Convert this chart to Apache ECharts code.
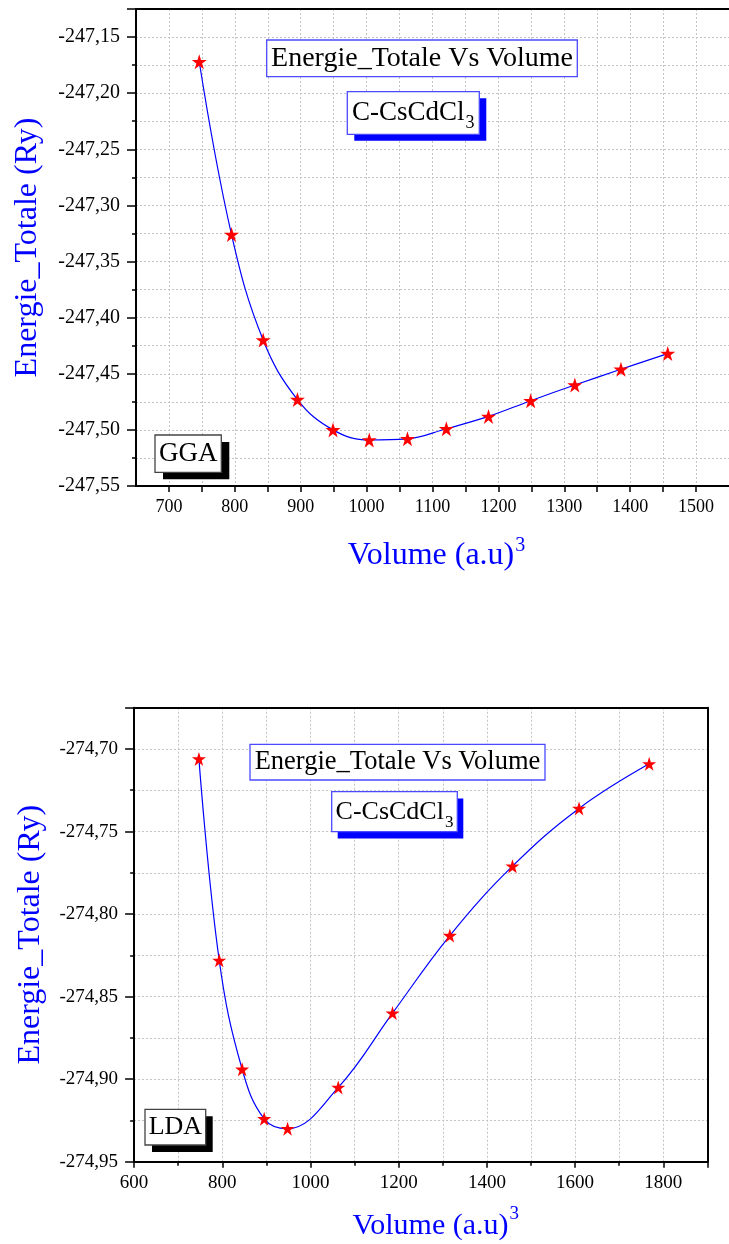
<!DOCTYPE html>
<html>
<head>
<meta charset="utf-8">
<script src="https://cdn.jsdelivr.net/npm/echarts@6/dist/echarts.min.js"></script>
<style>
  html, body { margin: 0; padding: 0; background: #fff; }
  #chart { width: 729px; height: 1244px; }
</style>
</head>
<body>
<div id="chart"></div>
<script>
// ---- Data ----
const ggaVolume = [746, 795, 843, 895, 949, 1004, 1062, 1121, 1185, 1249, 1316, 1386, 1457];
const ggaEnergy = [-247.172, -247.326, -247.420, -247.473, -247.500, -247.509, -247.508, -247.499, -247.488, -247.474, -247.460, -247.446, -247.432];
const ldaVolume = [747, 793, 845, 895, 948, 1063, 1186, 1316, 1458, 1609, 1768];
const ldaEnergy = [-274.706, -274.828, -274.894, -274.924, -274.930, -274.905, -274.860, -274.813, -274.771, -274.736, -274.709];

const titleText = 'Energie_Totale Vs Volume';
const compoundMain = 'C-CsCdCl';
const compoundSub = '3';
const ggaLabel = 'GGA';
const ldaLabel = 'LDA';
const yName = 'Energie_Totale (Ry)';
const xNameMain = 'Volume (a.u)';
const xNameSup = '3';

// ---- Styling helpers ----
const FONT = 'Liberation Serif';
const BLUE = '#0000ff';
const STAR = 'path://M50,0L61.2,34.5L97.6,34.5L68.2,55.9L79.4,90.5L50,69.1L20.6,90.5L31.8,55.9L2.4,34.5L38.8,34.5Z';
const gridLine = { show: true, lineStyle: { color: '#c4c4c4', type: [2, 2], width: 1 } };

function pair(v, u) { return v.map((x, i) => [x, u[i]]); }
function commaFmt(v) { return v.toFixed(2).replace('.', ','); }
function intFmt(v) { return String(Math.round(v)); }

function xNameCfg(size, supSize, padLeft) {
  return {
    name: '{v|' + xNameMain + '}{s|' + xNameSup + '}',
    nameLocation: 'middle',
    nameTextStyle: {
      padding: [0, 0, 0, padLeft],
      rich: {
        v: { fontFamily: FONT, fontSize: size, color: BLUE, lineHeight: 36, verticalAlign: 'bottom' },
        s: { fontFamily: FONT, fontSize: supSize, color: BLUE, lineHeight: 36, verticalAlign: 'top', padding: [0, 0, 0, 1] }
      }
    }
  };
}

function boxGroup(x, y, w, h, borderColor, shadowColor, sdx, sdy, textCfg) {
  const children = [];
  if (shadowColor) {
    children.push({ type: 'rect', shape: { x: x + sdx, y: y + sdy, width: w, height: h }, style: { fill: shadowColor }, z: 100 });
  }
  children.push({ type: 'rect', shape: { x: x, y: y, width: w, height: h }, style: { fill: '#fff', stroke: borderColor, lineWidth: 1.3 }, z: 101 });
  children.push(Object.assign({ type: 'text', x: x + w / 2, y: y + h / 2, z: 102 }, textCfg));
  return children;
}

function plainText(str, size) {
  return { style: { text: str, fontFamily: FONT, fontSize: size, fill: '#000', align: 'center', verticalAlign: 'middle' } };
}
function compoundText(size, subSize) {
  return { style: {
    text: '{m|' + compoundMain + '}{b|' + compoundSub + '}',
    align: 'center', verticalAlign: 'middle',
    rich: {
      m: { fontFamily: FONT, fontSize: size, fill: '#000', lineHeight: 30, verticalAlign: 'middle' },
      b: { fontFamily: FONT, fontSize: subSize, fill: '#000', lineHeight: 30, verticalAlign: 'bottom', padding: [0, 0, -4, 1] }
    }
  } };
}

const chart = echarts.init(document.getElementById('chart'), null, { renderer: 'canvas' });

const option = {
  backgroundColor: '#fff',
  animation: false,
  grid: [
    { left: 136, top: 9, width: 603.5, height: 477 },
    { left: 134.1, top: 707.7, width: 573.3, height: 454 }
  ],
  xAxis: [
    Object.assign({
      gridIndex: 0, type: 'value', min: 650, max: 1550, interval: 50,
      nameGap: 50,
      axisLine: { show: true, onZero: false, lineStyle: { color: '#000', width: 2 } },
      axisTick: { show: true, length: 6, lineStyle: { color: '#000', width: 1.5 } },
      axisLabel: { show: true, margin: 12, fontFamily: FONT, fontSize: 18, color: '#000',
        formatter: v => (Math.round(v) % 100 === 0 ? intFmt(v) : ''),
        showMinLabel: false, showMaxLabel: false },
      splitLine: gridLine
    }, xNameCfg(32, 20, 8)),
    {
      gridIndex: 0, type: 'value', position: 'top', min: 650, max: 1550,
      axisLine: { show: true, onZero: false, lineStyle: { color: '#000', width: 2 } },
      axisTick: { show: false }, axisLabel: { show: false }, splitLine: { show: false }
    },
    Object.assign({
      gridIndex: 1, type: 'value', min: 600, max: 1900, interval: 200,
      nameGap: 43,
      axisLine: { show: true, onZero: false, lineStyle: { color: '#000', width: 2 } },
      axisTick: { show: true, length: 6, lineStyle: { color: '#000', width: 1.5 } },
      minorTick: { show: true, splitNumber: 2, length: 4, lineStyle: { color: '#000', width: 1.5 } },
      axisLabel: { show: true, margin: 12, fontFamily: FONT, fontSize: 19, color: '#000', formatter: intFmt, showMaxLabel: false },
      splitLine: gridLine,
      minorSplitLine: gridLine
    }, xNameCfg(30, 19, 30)),
    {
      gridIndex: 1, type: 'value', position: 'top', min: 600, max: 1900,
      axisLine: { show: true, onZero: false, lineStyle: { color: '#000', width: 2 } },
      axisTick: { show: false }, axisLabel: { show: false }, splitLine: { show: false }
    }
  ],
  yAxis: [
    {
      gridIndex: 0, type: 'value', min: -247.55, max: -247.125, interval: 0.05,
      name: yName, nameLocation: 'middle', nameGap: 92,
      nameTextStyle: { fontFamily: FONT, fontSize: 32, color: BLUE },
      axisLine: { show: true, onZero: false, lineStyle: { color: '#000', width: 2 } },
      axisTick: { show: true, length: 9, lineStyle: { color: '#000', width: 1.5 } },
      minorTick: { show: true, splitNumber: 2, length: 4, lineStyle: { color: '#000', width: 1.5 } },
      axisLabel: { show: true, margin: 16, fontFamily: FONT, fontSize: 20, color: '#000', formatter: commaFmt, showMaxLabel: false },
      splitLine: gridLine,
      minorSplitLine: gridLine
    },
    {
      gridIndex: 1, type: 'value', min: -274.95, max: -274.675, interval: 0.05,
      name: yName, nameLocation: 'middle', nameGap: 88,
      nameTextStyle: { fontFamily: FONT, fontSize: 32, color: BLUE },
      axisLine: { show: true, onZero: false, lineStyle: { color: '#000', width: 2 } },
      axisTick: { show: true, length: 9, lineStyle: { color: '#000', width: 1.5 } },
      minorTick: { show: true, splitNumber: 2, length: 4, lineStyle: { color: '#000', width: 1.5 } },
      axisLabel: { show: true, margin: 16, fontFamily: FONT, fontSize: 19, color: '#000', formatter: commaFmt, showMaxLabel: false },
      splitLine: gridLine,
      minorSplitLine: gridLine
    },
    {
      gridIndex: 1, type: 'value', position: 'right', min: -274.95, max: -274.675,
      axisLine: { show: true, onZero: false, lineStyle: { color: '#000', width: 2 } },
      axisTick: { show: false }, axisLabel: { show: false }, splitLine: { show: false }
    }
  ],
  series: [
    {
      type: 'line', xAxisIndex: 0, yAxisIndex: 0,
      data: pair(ggaVolume, ggaEnergy),
      smooth: 0.4,
      lineStyle: { color: BLUE, width: 1.2 },
      symbol: STAR, symbolSize: 15, showSymbol: true,
      itemStyle: { color: '#ff0000' },
      z: 5
    },
    {
      type: 'line', xAxisIndex: 2, yAxisIndex: 1,
      data: pair(ldaVolume, ldaEnergy),
      smooth: 0.4,
      lineStyle: { color: BLUE, width: 1.2 },
      symbol: STAR, symbolSize: 14, showSymbol: true,
      itemStyle: { color: '#ff0000' },
      z: 5
    }
  ],
  graphic: [].concat(
    boxGroup(266.7, 40, 310.6, 36.7, '#4a4aff', null, 0, 0, plainText(titleText, 28)),
    boxGroup(347.3, 91.7, 132, 42.6, '#4a4aff', BLUE, 7, 6.5, compoundText(27, 18)),
    boxGroup(155, 435, 66.3, 37.3, '#444', '#000', 8, 7, plainText(ggaLabel, 27)),
    boxGroup(250, 744.3, 295, 35.7, '#4a4aff', null, 0, 0, plainText(titleText, 26.5)),
    boxGroup(331.7, 791.7, 125.6, 40, '#4a4aff', BLUE, 6, 6.7, compoundText(26, 17)),
    boxGroup(145, 1109.3, 60.7, 35.7, '#444', '#000', 7, 7, plainText(ldaLabel, 26))
  )
};

chart.setOption(option);
</script>
</body>
</html>
